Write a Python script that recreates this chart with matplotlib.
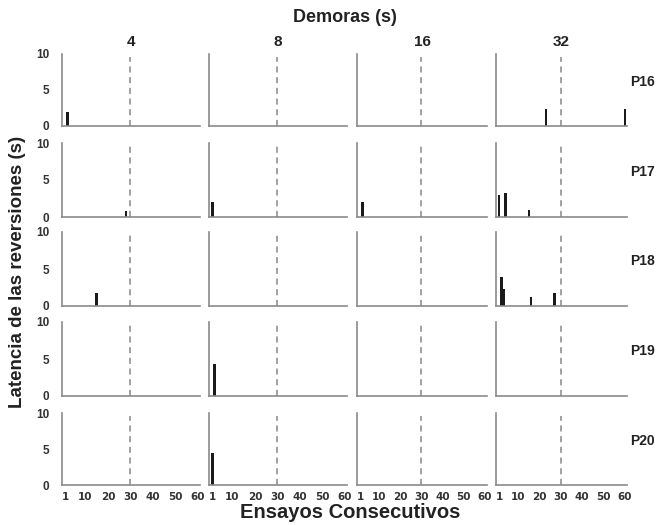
import matplotlib
matplotlib.use("Agg")
import matplotlib.pyplot as plt

plt.rcParams['font.family'] = ['Liberation Sans', 'DejaVu Sans']

demoras = ["4", "8", "16", "32"]
sujetos = ["P16", "P17", "P18", "P19", "P20"]
xticks = [1, 10, 20, 30, 40, 50, 60]
yticks = [0, 5, 10]
criterio = 30

# trials with a reversal and their latency (s), per subject / delay
p16_ensayos = [[2], [], [], [23, 60]]
p16_latencia = [[2.0], [], [], [2.4, 2.3]]
p17_ensayos = [[28], [1], [2], [1, 4, 15]]
p17_latencia = [[0.8], [2.0], [2.0], [3.0, 3.2, 0.9]]
p18_ensayos = [[15], [], [], [2, 3, 16, 27]]
p18_latencia = [[1.8], [], [], [3.9, 2.3, 1.2, 1.8]]
p19_ensayos = [[], [2], [], []]
p19_latencia = [[], [4.3], [], []]
p20_ensayos = [[], [1], [], []]
p20_latencia = [[], [4.5], [], []]

ensayos = [p16_ensayos, p17_ensayos, p18_ensayos, p19_ensayos, p20_ensayos]
latencias = [p16_latencia, p17_latencia, p18_latencia, p19_latencia, p20_latencia]

W, H = 657, 525
fig = plt.figure(figsize=(W / 100, H / 100), dpi=100)

col_px = [(62, 200), (209, 347), (357, 487), (496, 627)]
row_px = [(54, 126), (143, 217), (232, 306), (322, 396), (413, 485)]

for r in range(5):
    for c in range(4):
        x0, x1 = col_px[c]
        yt, yb = row_px[r]
        ax = fig.add_axes([x0 / W, 1 - yb / H, (x1 - x0) / W, (yb - yt) / H])
        ax.bar(ensayos[r][c], latencias[r][c], width=1.2, color='#1a1a1a')
        ax.vlines(criterio, 0, 9.6, colors='#888888', linestyles=(0, (4, 3)), linewidth=1.1)
        ax.set_xlim(-0.5, 61)
        ax.set_ylim(0, 10)
        for s in ['top', 'right']:
            ax.spines[s].set_visible(False)
        for s in ['left', 'bottom']:
            ax.spines[s].set_color('#8a8a8a')
            ax.spines[s].set_linewidth(1.2)
        ax.tick_params(axis='x', length=0, pad=5)
        ax.tick_params(axis='y', length=0, pad=9)
        ax.set_yticks(yticks)
        ax.set_xticks(xticks)
        if c == 0:
            ax.set_yticklabels([str(v) for v in yticks], fontsize=8.5, fontweight='bold', color='#333333')
        else:
            ax.set_yticklabels([])
        if r == 4:
            ax.set_xticklabels([str(v) for v in xticks], fontsize=7.5, fontweight='bold',
                               color='#333333', family='DejaVu Sans')
        else:
            ax.set_xticklabels([])
        if r == 0:
            ax.set_title(demoras[c], fontsize=11, fontweight='bold', pad=6, color='#222222')
        if c == 3:
            fig.text(655 / W, 1 - (yt + 0.39 * (yb - yt)) / H, sujetos[r], fontsize=10,
                     fontweight='bold', color='#222222', ha='right', va='center')

fig.text(345 / W, 1 - 18 / H, "Demoras (s)", ha='center', va='center', fontsize=13,
         fontweight='bold', color='#222222')
fig.text(350 / W, 1 - 512 / H, "Ensayos Consecutivos", ha='center', va='center', fontsize=14.5,
         fontweight='bold', color='#222222')
fig.text(18 / W, 1 - 272 / H, "Latencia de las reversiones (s)", ha='center', va='center',
         rotation=90, fontsize=13.5, fontweight='bold', color='#222222')

fig.savefig("out.png", dpi=100)
